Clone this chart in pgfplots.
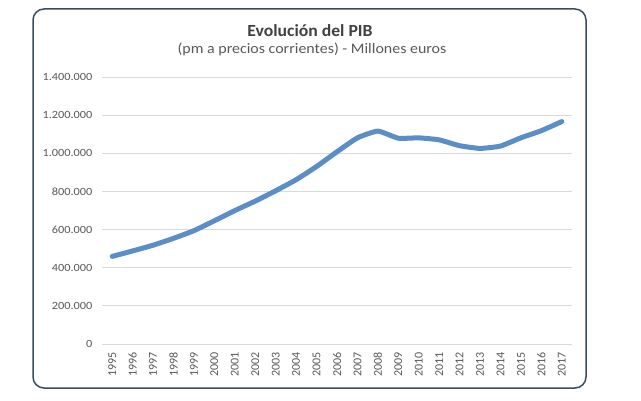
\documentclass[border=0pt]{standalone}
\usepackage{pgfplots}
\pgfplotsset{compat=1.18}
\usepackage{fontspec}
\setmainfont{Carlito}
\definecolor{linea}{HTML}{5B8EC6}
\definecolor{marco}{HTML}{3B4E60}
\definecolor{rejilla}{HTML}{D9D9D9}
\definecolor{texto}{HTML}{595959}
\definecolor{titulo}{HTML}{404040}
\begin{document}
\begin{tikzpicture}
\path[use as bounding box, fill=white] (0pt,0pt) rectangle (641pt,400pt);
\draw[marco, line width=1.5pt, rounded corners=11pt] (33pt,12pt) rectangle (586pt,391pt);
\node[font=\bfseries\fontsize{17}{19}\selectfont, text=titulo] at (310pt,369pt) {\scalebox{1.04}[1]{Evolución del PIB}};
\node[font=\fontsize{14.5}{17}\selectfont, text=texto] at (312pt,351pt) {\scalebox{1.1}[1]{(pm a precios corrientes) - Millones euros}};
\begin{axis}[
  at={(102pt,56pt)}, anchor=south west,
  scale only axis, width=470pt, height=267pt,
  xmin=-0.5, xmax=22.5, ymin=0, ymax=1400000,
  axis line style={draw=none},
  major tick length=0pt,
  ymajorgrids, grid style={rejilla, line width=0.8pt},
  ytick={0,200000,400000,600000,800000,1000000,1200000,1400000},
  xtick={0,...,22},
  xticklabels={1995,1996,1997,1998,1999,2000,2001,2002,2003,2004,2005,2006,2007,2008,2009,2010,2011,2012,2013,2014,2015,2016,2017},
  xticklabel style={rotate=90, anchor=east, font=\fontsize{12}{14}\selectfont, text=texto, xshift=-5pt},
  yticklabel style={font=\fontsize{11}{13}\selectfont, text=texto, xshift=-6pt},
  scaled y ticks=false,
  yticklabel={\scalebox{1.12}[1]{\pgfmathprintnumber[fixed, precision=0, 1000 sep={.}, assume math mode=true]{\tick}}},
]
\addplot[linea, line width=5pt, line cap=round, line join=round, smooth, tension=0.3] coordinates {
(0,459337) (1,487992) (2,518049) (3,554042) (4,594316) (5,646250)
(6,699528) (7,749288) (8,803472) (9,861420) (10,930566) (11,1007974)
(12,1080807) (13,1116207) (14,1079034) (15,1080913) (16,1070413)
(17,1039758) (18,1025634) (19,1037820) (20,1081190) (21,1118522) (22,1166319)
};
\end{axis}
\end{tikzpicture}
\end{document}
